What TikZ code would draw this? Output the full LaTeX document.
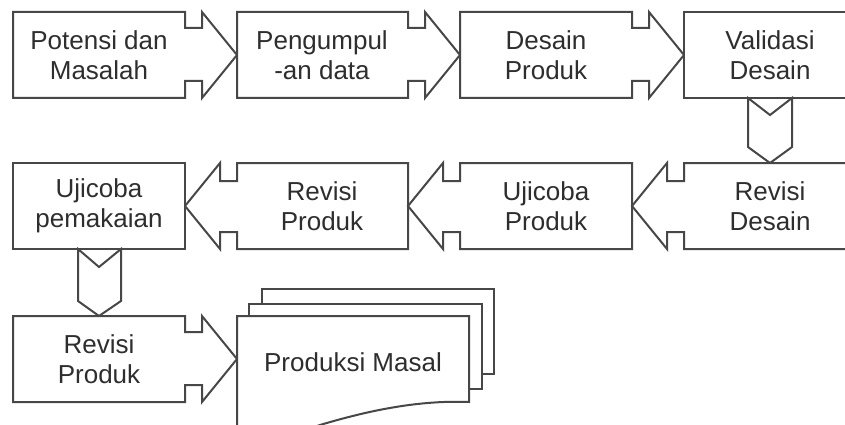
\documentclass[tikz,border=0pt]{standalone}
\usepackage{fontspec}
\setmainfont{Liberation Sans}
\usepackage{tikz}

\begin{document}
\begin{tikzpicture}[x=1pt,y=-1pt,
  box/.style={draw=black!72, line width=2pt, line join=miter, fill=white},
  txt/.style={text=black!82, font=\fontsize{26}{30}\selectfont, align=center, inner sep=0pt}]
\useasboundingbox (0,0) rectangle (845,425);
\clip (0,0) rectangle (845,425);
\foreach \l/\r in {13/185,237/408,460/632}\draw[box] (\l,12) -- (\r,12) -- (\r,28) -- (\r+17,28) -- (\r+17,12) -- (\r+52,55) -- (\r+17,98) -- (\r+17,81) -- (\r,81) -- (\r,98) -- (\l,98) -- cycle;
\draw[box] (684,12) -- (858,12) -- (858,98) -- (684,98) -- cycle;
\draw[box] (748,98) -- (770,115) -- (792,98) -- (792,147) -- (770,163) -- (748,147) -- cycle;
\foreach \l/\r in {237/408,460/632,684/858}\draw[box] (\r,163) -- (\l,163) -- (\l,181) -- (\l-17,181) -- (\l-17,163) -- (\l-52,206) -- (\l-17,249) -- (\l-17,232) -- (\l,232) -- (\l,249) -- (\r,249) -- cycle;
\draw[box] (13,163) -- (185,163) -- (185,249) -- (13,249) -- cycle;
\draw[box] (78,249) -- (99,267) -- (121,249) -- (121,301) -- (99,316) -- (78,301) -- cycle;
\draw[box] (13,316) -- (185,316) -- (185,332) -- (202,332) -- (202,316) -- (237,359) -- (202,402) -- (202,385) -- (185,385) -- (185,402) -- (13,402) -- cycle;
\draw[box] (262,289) -- (494,289) -- (494,374) -- (262,374) -- cycle;
\draw[box] (249,304) -- (482,304) -- (482,389) -- (249,389) -- cycle;
\draw[box] (237,316) -- (469,316) -- (469,402) .. controls (420,400) and (370,410) .. (320,425) -- (290,435) -- (237,440) -- cycle;
\node[txt] (potensi) at (99,55) {Potensi dan\\Masalah};
\node[txt] (pengumpulan) at (322,55) {Pengumpul\\-an data};
\node[txt] (desain) at (546,55) {Desain\\Produk};
\node[txt] (validasi) at (770,55) {Validasi\\Desain};
\node[txt] (uji pakai) at (99,206) {Ujicoba\\pemakaian};
\node[txt] (revisi produk) at (322,206) {Revisi\\Produk};
\node[txt] (uji produk) at (546,206) {Ujicoba\\Produk};
\node[txt] (revisi desain) at (770,206) {Revisi\\Desain};
\node[txt] (revisi akhir) at (99,359) {Revisi\\Produk};
\node[txt] (masal) at (353,362) {Produksi Masal};
\end{tikzpicture}
\end{document}
